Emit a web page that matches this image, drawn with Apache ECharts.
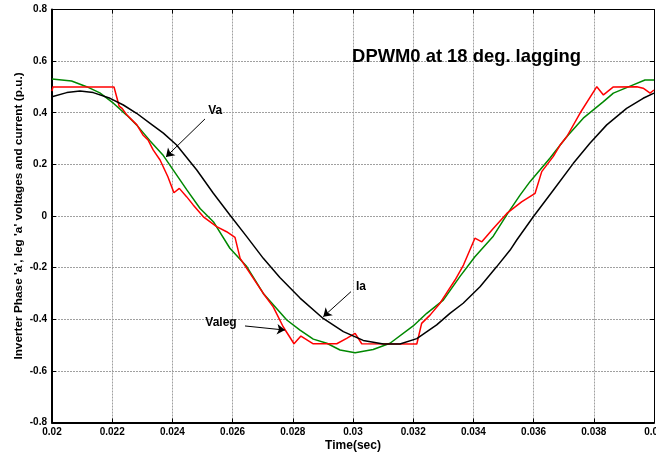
<!DOCTYPE html>
<html>
<head>
<meta charset="utf-8">
<script src="https://cdn.jsdelivr.net/npm/echarts@6/dist/echarts.min.js"></script>
<style>
html,body{margin:0;padding:0;background:#fff;}
#main{width:656px;height:455px;}
</style>
</head>
<body>
<div id="main"></div>
<script>
// ---- data ----
var xTicks = [0.02,0.022,0.024,0.026,0.028,0.03,0.032,0.034,0.036,0.038,0.04];
var yTicks = [-0.8,-0.6,-0.4,-0.2,0,0.2,0.4,0.6,0.8];

var valegT = [0.02,0.02003,0.02206,0.02223,0.02233,0.02249,0.02282,0.02302,0.02319,0.02336,0.02359,0.02385,0.02405,0.02423,0.02447,0.02469,0.02503,0.02547,0.02580,0.02608,0.02625,0.02658,0.02702,0.02735,0.02768,0.02804,0.02827,0.02868,0.02946,0.02979,0.03007,0.03029,0.03212,0.03228,0.03256,0.03289,0.03317,0.03339,0.03367,0.03405,0.03428,0.03466,0.03511,0.03560,0.03605,0.03627,0.03665,0.03688,0.03710,0.03754,0.03810,0.03832,0.03865,0.03943,0.03964,0.03987,0.04];
var valegV = [0.484,0.5,0.5,0.426,0.417,0.391,0.353,0.314,0.295,0.256,0.217,0.152,0.090,0.107,0.075,0.043,-0.003,-0.041,-0.061,-0.083,-0.164,-0.222,-0.300,-0.352,-0.429,-0.495,-0.465,-0.495,-0.495,-0.474,-0.455,-0.495,-0.496,-0.416,-0.384,-0.338,-0.287,-0.248,-0.190,-0.086,-0.100,-0.048,0.010,0.055,0.088,0.172,0.230,0.275,0.307,0.398,0.501,0.469,0.5,0.501,0.495,0.476,0.488];

var vaT = [0.02,0.02065,0.02115,0.02159,0.02204,0.02248,0.02281,0.02326,0.02370,0.02403,0.02448,0.02492,0.02536,0.02591,0.02647,0.02702,0.02780,0.02824,0.02868,0.02913,0.02957,0.03007,0.03067,0.03123,0.03200,0.03245,0.03300,0.03355,0.03405,0.03466,0.03515,0.03555,0.03588,0.03654,0.03710,0.03765,0.03832,0.03865,0.03931,0.03970,0.04];
var vaV = [0.531,0.523,0.501,0.477,0.437,0.391,0.353,0.291,0.234,0.178,0.101,0.029,-0.022,-0.125,-0.196,-0.300,-0.403,-0.442,-0.477,-0.493,-0.519,-0.530,-0.517,-0.493,-0.426,-0.377,-0.326,-0.235,-0.158,-0.078,0.012,0.081,0.133,0.224,0.307,0.379,0.443,0.476,0.508,0.527,0.527];

var iaT = [0.02,0.02049,0.02093,0.02137,0.02193,0.02237,0.02281,0.02326,0.02370,0.02414,0.02481,0.02536,0.02591,0.02647,0.02702,0.02757,0.02824,0.02901,0.02968,0.03034,0.03101,0.03156,0.03212,0.03278,0.03322,0.03366,0.03422,0.03477,0.03522,0.03544,0.03599,0.03666,0.03732,0.03787,0.03843,0.03909,0.03964,0.04];
var iaV = [0.462,0.478,0.484,0.478,0.456,0.430,0.398,0.359,0.321,0.275,0.178,0.088,0.004,-0.080,-0.164,-0.238,-0.318,-0.397,-0.448,-0.482,-0.496,-0.496,-0.475,-0.422,-0.377,-0.338,-0.274,-0.197,-0.132,-0.093,-0.003,0.101,0.204,0.282,0.353,0.417,0.456,0.476];

// annotation texts and arrows (data coordinates)
var noteTexts = ['Va','Ia','Valeg'];
var notePos = [[0.02542,0.407],[0.030266,-0.275],[0.025615,-0.413]];
var arrowFrom = [[0.025083,0.376],[0.029934,-0.293],[0.026412,-0.426]];
var arrowTo = [[0.023787,0.229],[0.029013,-0.390],[0.027741,-0.442]];
var titleText = 'DPWM0 at 18 deg. lagging';
var titlePos = [0.02997,0.616];

function zip(t,v){return t.map(function(x,i){return [x,v[i]];});}

var chart = echarts.init(document.getElementById('main'), null, {renderer:'canvas'});
var tickFont = {fontFamily:'Liberation Sans, Arial, sans-serif', fontWeight:'bold', fontSize:10, color:'#000'};
var gridLine = {show:true,lineStyle:{color:'#a0a0a0',width:1,type:[2,1]}};

var option = {
  animation:false,
  backgroundColor:'#fff',
  grid:{left:52,right:2,top:9.5,bottom:32.5,containLabel:false,outerBoundsMode:'none'},
  xAxis:[{
    type:'value',min:xTicks[0],max:xTicks[xTicks.length-1],interval:0.002,
    position:'bottom',
    name:'Time(sec)',nameLocation:'middle',nameGap:17,nameMoveOverlap:false,
    nameTextStyle:{fontFamily:'Liberation Sans, Arial, sans-serif',fontWeight:'bold',fontSize:12,color:'#000'},
    axisLine:{show:true,onZero:false,lineStyle:{color:'#000',width:2}},
    axisTick:{show:true,inside:true,length:4,lineStyle:{color:'#000'}},
    axisLabel:Object.assign({margin:5,formatter:function(v){return String(+v.toFixed(3));}},tickFont),
    splitLine:gridLine
  },{
    type:'value',min:xTicks[0],max:xTicks[xTicks.length-1],interval:0.002,
    position:'top',
    axisLine:{show:true,onZero:false,lineStyle:{color:'#000',width:1}},
    axisTick:{show:true,inside:true,length:4,lineStyle:{color:'#000'}},
    axisLabel:{show:false},splitLine:{show:false}
  }],
  yAxis:[{
    type:'value',min:yTicks[0],max:yTicks[yTicks.length-1],interval:0.2,
    position:'left',
    name:"Inverter Phase 'a', leg 'a' voltages and current (p.u.)",
    nameLocation:'middle',nameGap:27,nameMoveOverlap:false,
    nameTextStyle:{fontFamily:'Liberation Sans, Arial, sans-serif',fontWeight:'bold',fontSize:11.8,color:'#000'},
    axisLine:{show:true,onZero:false,lineStyle:{color:'#000',width:2}},
    axisTick:{show:true,inside:true,length:4,lineStyle:{color:'#000'}},
    axisLabel:Object.assign({margin:5,formatter:function(v){return String(+v.toFixed(1));}},tickFont),
    splitLine:gridLine
  },{
    type:'value',min:yTicks[0],max:yTicks[yTicks.length-1],interval:0.2,
    position:'right',
    axisLine:{show:true,onZero:false,lineStyle:{color:'#000',width:1}},
    axisTick:{show:true,inside:true,length:4,lineStyle:{color:'#000'}},
    axisLabel:{show:false},splitLine:{show:false}
  }],
  series:[
    {name:'Va',type:'line',data:zip(vaT,vaV),showSymbol:false,symbol:'none',
     lineStyle:{color:'#008800',width:1.5},z:3},
    {name:'Valeg',type:'line',data:zip(valegT,valegV),showSymbol:false,symbol:'none',
     lineStyle:{color:'#ff0000',width:1.5},z:4},
    {name:'Ia',type:'line',data:zip(iaT,iaV),showSymbol:false,symbol:'none',
     lineStyle:{color:'#000000',width:1.5},z:5,
     markLine:{silent:true,symbol:['none','arrow'],symbolSize:8,animation:false,
       itemStyle:{color:'#000'},
       lineStyle:{color:'#000',width:1,type:'solid'},label:{show:false},
       emphasis:{disabled:true},
       data:arrowFrom.map(function(p,i){return [{coord:p},{coord:arrowTo[i]}];})},
     markPoint:{silent:true,symbol:'circle',symbolSize:0,animation:false,
       label:{show:true,position:'inside',formatter:'{b}',color:'#000',
         fontFamily:'Liberation Sans, Arial, sans-serif',fontWeight:'bold',fontSize:12},
       data:noteTexts.map(function(t,i){return {name:t,coord:notePos[i]};}).concat([
         {name:titleText,coord:titlePos,label:{position:'right',distance:0,fontSize:18.4}}
       ])}
    }
  ]
};
chart.setOption(option);
</script>
</body>
</html>
